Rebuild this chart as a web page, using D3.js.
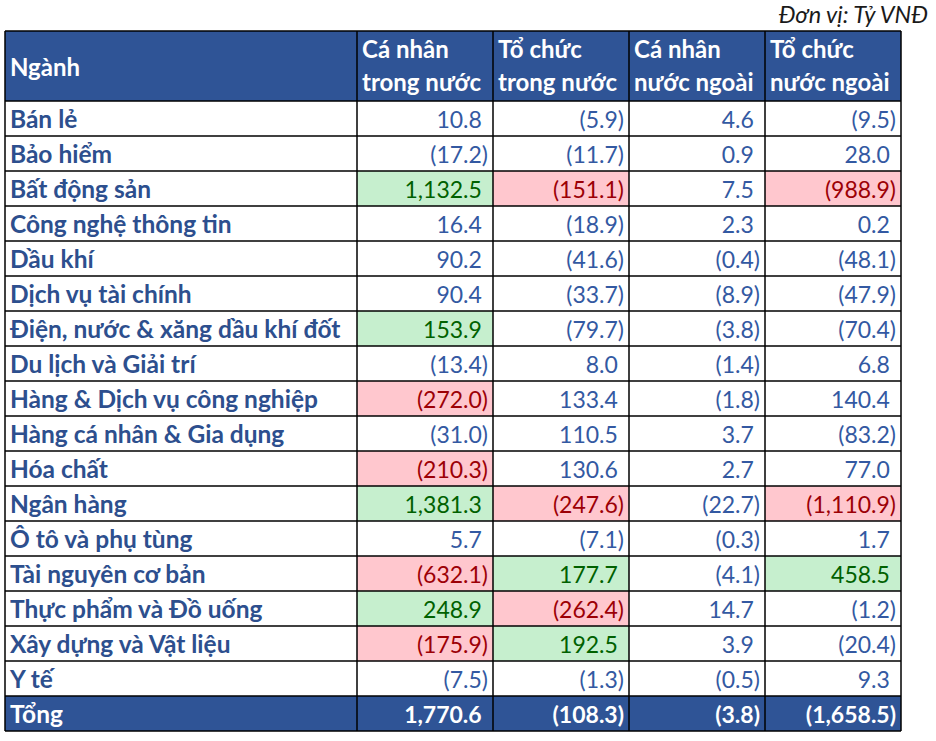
<!DOCTYPE html>
<html><head><meta charset="utf-8">
<script src="https://cdn.jsdelivr.net/npm/d3@7"></script>
<style>body{margin:0;background:#fff}svg{display:block}</style>
</head><body>
<svg id="chart" width="936" height="741"></svg>
<script>
const unitLabel = "Đơn vị: Tỷ VNĐ";
const firstHeader = "Ngành";
const columnHeaders = [["Cá nhân","trong nước"],["Tổ chức","trong nước"],["Cá nhân","nước ngoài"],["Tổ chức","nước ngoài"]];
const categories = ["Bán lẻ","Bảo hiểm","Bất động sản","Công nghệ thông tin","Dầu khí","Dịch vụ tài chính","Điện, nước & xăng dầu khí đốt","Du lịch và Giải trí","Hàng & Dịch vụ công nghiệp","Hàng cá nhân & Gia dụng","Hóa chất","Ngân hàng","Ô tô và phụ tùng","Tài nguyên cơ bản","Thực phẩm và Đồ uống","Xây dựng và Vật liệu","Y tế"];
const caNhanTrongNuoc = [10.8,-17.2,1132.5,16.4,90.2,90.4,153.9,-13.4,-272.0,-31.0,-210.3,1381.3,5.7,-632.1,248.9,-175.9,-7.5];
const toChucTrongNuoc = [-5.9,-11.7,-151.1,-18.9,-41.6,-33.7,-79.7,8.0,133.4,110.5,130.6,-247.6,-7.1,177.7,-262.4,192.5,-1.3];
const caNhanNuocNgoai = [4.6,0.9,7.5,2.3,-0.4,-8.9,-3.8,-1.4,-1.8,3.7,2.7,-22.7,-0.3,-4.1,14.7,3.9,-0.5];
const toChucNuocNgoai = [-9.5,28.0,-988.9,0.2,-48.1,-47.9,-70.4,6.8,140.4,-83.2,77.0,-1110.9,1.7,458.5,-1.2,-20.4,9.3];
const totalLabel = "Tổng";
const totals = [1770.6,-108.3,-3.8,-1658.5];
const highlightThreshold = 150;

const series = [caNhanTrongNuoc, toChucTrongNuoc, caNhanNuocNgoai, toChucNuocNgoai];
const svg = d3.select("#chart");
const FONT = "Lato, 'Open Sans', sans-serif";
const FS = 23, FS_CAT = 24.5, FS_HEAD = 24;
const HEAD = "#2F5496", CAT = "#2D4F8E", NUM = "#3359A2";
const GREEN_BG = "#C6EFCE", GREEN_TX = "#006100", RED_BG = "#FFC7CE", RED_TX = "#9C0006";

const tableLeft = 5, firstColRight = 357, tableRight = 901;
const headTop = 31, headBottom = 101, rowH = 35;
const colIdx = d3.range(series.length);
const x = d3.scaleBand().domain(colIdx).range([firstColRight, tableRight]);
const rowKeys = categories.concat([totalLabel]);
const y = d3.scaleBand().domain(rowKeys).range([headBottom, headBottom + rowH * rowKeys.length]);
const tableBottom = y.range()[1];
const fmt = d3.format(",.1f");

// unit label
svg.append("text").attr("x", 928).attr("y", 23).attr("text-anchor","end")
  .attr("font-family", FONT).attr("font-style","italic").attr("font-size", 23.5).attr("fill","#1a1a1a")
  .text(unitLabel);

// header background
svg.append("rect").attr("x", tableLeft).attr("y", headTop).attr("width", tableRight - tableLeft)
  .attr("height", headBottom - headTop).attr("fill", HEAD);
// total row background
svg.append("rect").attr("x", tableLeft).attr("y", y(totalLabel)).attr("width", tableRight - tableLeft)
  .attr("height", y.bandwidth()).attr("fill", HEAD);

// cell data
const cells = [];
categories.forEach((c, i) => colIdx.forEach(j => cells.push({row: c, col: j, v: series[j][i], total: false})));
totals.forEach((v, j) => cells.push({row: totalLabel, col: j, v, total: true}));

// highlighted cells
svg.selectAll("rect.hl").data(cells.filter(d => !d.total && Math.abs(d.v) > highlightThreshold)).join("rect")
  .attr("class","hl").attr("x", d => x(d.col)).attr("y", d => y(d.row))
  .attr("width", x.bandwidth()).attr("height", y.bandwidth())
  .attr("fill", d => d.v > 0 ? GREEN_BG : RED_BG);

// header texts
svg.append("text").attr("x", tableLeft + 5).attr("y", 76).attr("font-family", FONT).attr("font-weight", 700)
  .attr("font-size", FS_HEAD).attr("fill", "#fff").text(firstHeader);
colIdx.forEach(j => {
  columnHeaders[j].forEach((line, k) => {
    svg.append("text").attr("x", x(j) + 5).attr("y", 58 + k * 33).attr("font-family", FONT).attr("font-weight", 700)
      .attr("font-size", FS_HEAD).attr("fill", "#fff").text(line);
  });
});

// category names
svg.selectAll("text.cat").data(rowKeys).join("text").attr("class","cat")
  .attr("x", tableLeft + 5).attr("y", d => y(d) + y.bandwidth() - 8)
  .attr("font-family", FONT).attr("font-weight", 700).attr("font-size", FS_CAT)
  .attr("fill", d => d === totalLabel ? "#fff" : CAT).text(d => d);

// numbers
const nt = svg.selectAll("text.num").data(cells).join("text").attr("class","num")
  .attr("x", d => x(d.col) + x.bandwidth() - 5).attr("y", d => y(d.row) + y.bandwidth() - 8)
  .attr("text-anchor","end").attr("font-family", FONT).attr("font-size", FS)
  .attr("font-weight", d => d.total ? 700 : 400)
  .attr("fill", d => d.total ? "#fff" : (Math.abs(d.v) > highlightThreshold ? (d.v > 0 ? GREEN_TX : RED_TX) : NUM));
nt.each(function(d) {
  const t = d3.select(this);
  if (d.v < 0) { t.append("tspan").text("(" + fmt(-d.v) + ")"); }
  else { t.append("tspan").text(fmt(d.v)); t.append("tspan").attr("fill-opacity", 0).text(")"); }
});

// grid lines
const g = svg.append("g").attr("stroke", "#000").attr("stroke-width", 1.5);
const hLines = [headTop, headBottom].concat(rowKeys.map(r => y(r) + y.bandwidth()));
g.selectAll("line.h").data(hLines).join("line").attr("class","h")
  .attr("x1", tableLeft).attr("x2", tableRight).attr("y1", d => d).attr("y2", d => d);
const vLines = [tableLeft, firstColRight].concat(colIdx.map(j => x(j) + x.bandwidth()));
g.selectAll("line.v").data(vLines).join("line").attr("class","v")
  .attr("x1", d => d).attr("x2", d => d).attr("y1", headTop).attr("y2", tableBottom);
</script>
</body></html>
